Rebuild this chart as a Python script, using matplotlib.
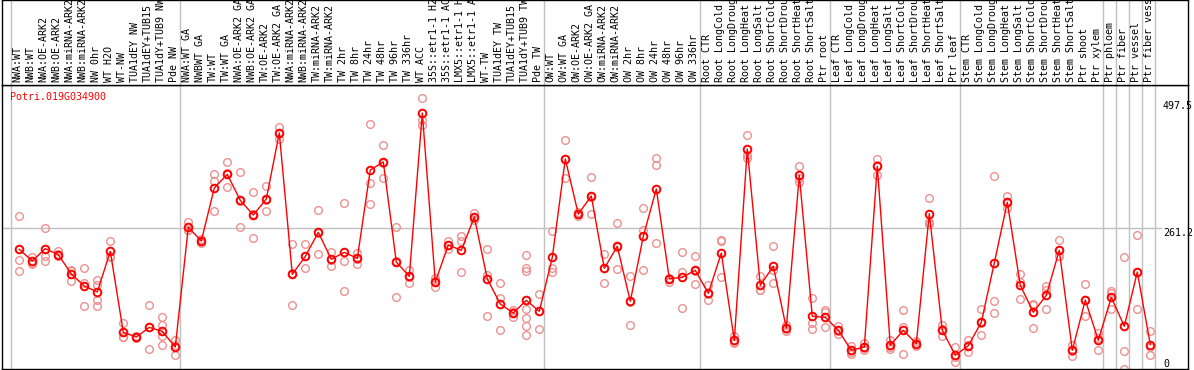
import matplotlib
matplotlib.use('Agg')
import matplotlib.pyplot as plt

# column labels, grouped (a gray separator is drawn after every group)
group1 = ['NWA:WT', 'NWB:WT', 'NWA:OE-ARK2', 'NWB:OE-ARK2', 'NWA:miRNA-ARK2', 'NWB:miRNA-ARK2',
          'NW 0hr', 'WT H2O', 'WT-NW', 'TUA1dEY NW', 'TUA1dEY+TUB15', 'TUA1dY+TUB9 NW', 'Pde NW']
group2 = ['NWA:WT GA', 'NWBWT GA', 'TW:WT', 'TW:WT GA', 'NWA:OE-ARK2 GA', 'NWB:OE-ARK2 GA',
          'TW:OE-ARK2', 'TW:OE-ARK2 GA', 'NWA:miRNA-ARK2', 'NWB:miRNA-ARK2', 'TW:miRNA-ARK2',
          'TW:miRNA-ARK2', 'TW 2hr', 'TW 8hr', 'TW 24hr', 'TW 48hr', 'TW 96hr', 'TW 336hr', 'WT ACC',
          '35S::etr1-1 H2', '35S::etr1-1 AC', 'LMX5::etr1-1 H', 'LMX5::etr1-1 A', 'WT-TW',
          'TUA1dEY TW', 'TUA1dEY+TUB15', 'TUA1dY+TUB9 TW', 'Pde TW']
group3 = ['OW:WT', 'OW:WT GA', 'OW:OE-ARK2', 'OW:OE-ARK2 GA', 'OW:miRNA-ARK2', 'OW:miRNA-ARK2',
          'OW 2hr', 'OW 8hr', 'OW 24hr', 'OW 48hr', 'OW 96hr', 'OW 336hr']
group4 = ['Root CTR', 'Root LongCold', 'Root LongDroug', 'Root LongHeat', 'Root LongSalt',
          'Root ShortCold', 'Root ShortDrou', 'Root ShortHeat', 'Root ShortSalt', 'Ptr root']
group5 = ['Leaf CTR', 'Leaf LongCold', 'Leaf LongDroug', 'Leaf LongHeat', 'Leaf LongSalt',
          'Leaf ShortCold', 'Leaf ShortDrou', 'Leaf ShortHeat', 'Leaf ShortSalt', 'Ptr leaf']
group6 = ['Stem CTR', 'Stem LongCold', 'Stem LongDroug', 'Stem LongHeat', 'Stem LongSalt',
          'Stem ShortCold', 'Stem ShortDrou', 'Stem ShortHeat', 'Stem ShortSalt', 'Ptr shoot', 'Ptr xylem']
group7 = ['Ptr phloem']
group8 = ['Ptr fiber']
group9 = ['Ptr vessel']
group10 = ['Ptr fiber vess']
groups = [group1, group2, group3, group4, group5, group6, group7, group8, group9, group10]

# mean expression per sample
means = [222.1, 200.4, 223.3, 212.2, 176.2, 153.9, 142.7, 218.4, 67.7, 58.9, 76.9, 69.5, 40.4,
         263.1, 237.6, 336.2, 361.6, 313.2, 286.0, 315.7, 438.5, 175.6, 209.0, 253.7, 203.5, 216.5,
         205.3, 369.7, 384.6, 198.5, 171.8, 475.7, 161.3, 230.2, 220.2, 282.3, 166.9, 120.4, 103.6,
         127.2, 106.8,
         207.2, 390.2, 287.8, 321.3, 186.8, 227.7, 125.3, 246.3, 334.4, 167.5, 170.0, 183.0,
         140.2, 215.2, 52.8, 408.8, 155.1, 190.5, 75.7, 359.8, 97.4, 95.6,
         71.4, 34.2, 40.4, 376.5, 43.5, 71.4, 46.6, 288.5, 71.4, 24.9,
         42.8, 86.3, 196.7, 309.5, 155.1, 104.9, 136.5, 220.2, 34.2, 127.8, 52.8,
         132.8, 78.9, 179.9, 44.7]

# replicate values per sample
replicates = [
    [284.1, 201.6, 181.8], [207.2, 196.7, 194.2], [261.1, 209.0, 199.8], [218.4, 213.9, 210.3],
    [184.3, 181.7, 162.6], [186.8, 158.9, 116.0], [164.4, 156.4, 127.2, 116.0], [238.2, 207.2, 209.7],
    [85.0, 58.4, 59.7], [60.2, 57.1, 59.6], [117.9, 77.6, 36.0], [95.6, 80.7, 60.2, 44.8],
    [52.8, 43.5, 24.9],
    [273.5, 258.2, 257.2], [241.0, 237.2, 234.4], [361.6, 349.8, 292.8], [384.2, 337.4, 363.2],
    [365.3, 263.1, 311.3], [328.1, 242.6, 287.3], [339.9, 292.8, 314.5], [449.7, 427.3, 438.5],
    [231.4, 117.9, 177.5], [231.4, 186.8, 208.9], [294.7, 213.4, 253.0], [217.1, 190.5, 202.9],
    [307.7, 199.8, 143.9], [215.9, 195.4, 204.6], [455.2, 344.9, 305.8], [415.6, 354.8, 383.3],
    [263.1, 132.8, 199.7], [184.3, 160.1, 171.1], [503.6, 463.3, 454.0], [168.8, 152.0, 163.2],
    [237.0, 222.7, 230.9], [246.3, 238.2, 179.3], [289.7, 277.2, 279.8], [222.1, 174.9, 98.7],
    [159.4, 131.5, 71.4], [109.8, 95.6, 105.5], [212.2, 187.3, 181.1, 111.7, 94.4, 78.9, 62.1],
    [138.9, 73.2, 108.0],
    [255.6, 187.3, 179.3], [424.9, 354.8, 390.9], [283.5, 292.0, 287.8], [356.0, 287.8, 320.2],
    [213.4, 160.1, 186.8], [271.0, 184.9, 227.1], [171.8, 80.7, 123.5], [298.9, 258.7, 183.0],
    [392.0, 378.4, 233.9], [169.6, 160.7, 167.7], [217.1, 179.9, 112.9], [209.7, 157.6, 181.7],
    [155.1, 127.2, 138.2], [237.0, 170.0, 238.8], [60.2, 47.8, 50.3], [434.8, 398.2, 392.0],
    [171.8, 147.0, 146.6], [228.3, 160.1, 183.0], [81.9, 70.8, 74.5], [376.5, 347.3, 355.6],
    [131.5, 85.0, 74.5], [109.8, 105.5, 77.6],
    [78.9, 64.6, 70.8], [42.8, 28.0, 31.7], [47.8, 34.2, 39.1], [390.2, 361.0, 378.2],
    [52.8, 37.2, 40.6], [108.6, 28.0, 77.7], [50.9, 41.6, 47.2], [317.6, 272.9, 269.2],
    [80.7, 60.2, 73.2], [39.8, 12.5, 22.4],
    [52.8, 31.0, 44.8], [111.0, 63.3, 84.5], [357.9, 125.3, 103.0], [320.7, 298.9, 309.0],
    [176.2, 160.7, 129.7], [120.4, 75.7, 118.5], [154.5, 147.0, 111.0], [240.1, 210.3, 210.3],
    [44.8, 24.3, 33.5], [157.6, 97.4, 128.4], [66.5, 34.2, 57.7],
    [145.1, 140.8, 110.5], [207.8, 32.3, 0.0], [248.7, 110.5, 180.5], [69.5, 24.9, 39.7]]

gene = 'Potri.019G034900'
yticks = [0, 261.2, 497.5]

labels = [lab for g in groups for lab in g]
xs = list(range(len(labels)))

# where the group separators go
bounds = [0]
for g in groups:
    bounds.append(bounds[-1] + len(g))

W, H = 1194, 370
fig = plt.figure(figsize=(W / 100, H / 100), dpi=100)
font = 'DejaVu Sans Mono'
fsize = 7.2
gray = '#c0c0c0'

# pixel layout helpers
x0, x1 = 2, 1188
head_bottom = 85
plot_bottom = 369
xlim = ((x0 - 19.3) / 13, (x1 - 19.3) / 13)

ax = fig.add_axes([x0 / W, 1 - plot_bottom / H, (x1 - x0) / W, (plot_bottom - head_bottom) / H])
head = fig.add_axes([x0 / W, 1 - head_bottom / H, (x1 - x0) / W, head_bottom / H])

# header with rotated sample names
head.set_xlim(xlim)
head.set_ylim(0, 1)
head.set_xticks([])
head.set_yticks([])
for i, lab in enumerate(labels):
    head.text(i - 0.115, 0.035, lab, rotation=90, ha='center', va='bottom',
              fontsize=fsize, family=font, color='black')
for b in bounds:
    head.axvline(b - 0.615, color=gray, lw=1)
for s in head.spines.values():
    s.set_color('black')
    s.set_linewidth(1)

# data panel
ax.set_xlim(xlim)
ax.set_ylim(-0.56, 527.8)
ax.set_xticks([])
for b in bounds:
    ax.axvline(b - 0.615, color=gray, lw=1, zorder=1)
ax.axhline(261.2, xmax=(1161 - x0) / (x1 - x0), color=gray, lw=1, zorder=1)

rx, ry = [], []
for i, reps in enumerate(replicates):
    for v in reps:
        rx.append(i)
        ry.append(v)
ax.plot(rx, ry, linestyle='none', marker='o', ms=5.5, mfc='none', mec='#ee9090', mew=1, zorder=2)
ax.plot(xs, means, color='red', lw=1, marker='o', ms=5.5, mfc='none', mec='red', mew=1.4, zorder=3)

ax.text((10 - x0) / (x1 - x0), 1 - (92 - head_bottom) / (plot_bottom - head_bottom), gene,
        transform=ax.transAxes, ha='left', va='top', color='red', fontsize=fsize, family=font)

ax.yaxis.tick_right()
ax.set_yticks(yticks)
ax.set_yticklabels(['0', '261.2', '497.5'], family=font, fontsize=fsize)
ax.tick_params(axis='y', length=0, pad=-18)
ticklabels = ax.get_yticklabels()
ticklabels[0].set_va('bottom')
ticklabels[1].set_va('top')
ticklabels[2].set_va('top')
for s in ax.spines.values():
    s.set_color('black')
    s.set_linewidth(1)

fig.savefig('out.png', dpi=100, facecolor='white')
